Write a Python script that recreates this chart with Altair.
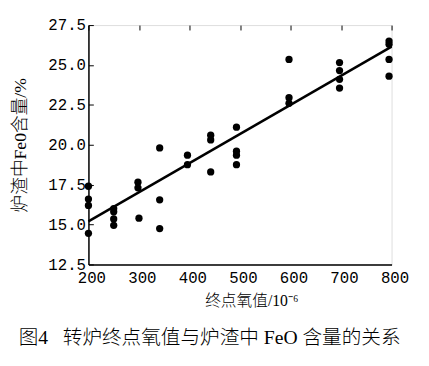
import altair as alt
import pandas as pd

# End-point oxygen (10^-6) and FeO content in slag (%)
oxygen = [200, 200, 200, 200,
          250, 250, 250, 250,
          298, 298, 300,
          341, 341, 341,
          396, 396,
          442, 442, 442,
          493, 493, 493, 493,
          597, 597, 597,
          697, 697, 697, 697,
          795, 795, 795, 795]
feo = [17.4, 16.6, 16.2, 14.45,
       16.0, 15.8, 15.35, 14.95,
       17.65, 17.3, 15.4,
       19.8, 16.55, 14.75,
       19.35, 18.75,
       20.6, 20.3, 18.3,
       21.1, 19.6, 19.35, 18.75,
       25.35, 22.95, 22.6,
       25.15, 24.65, 24.1, 23.55,
       26.5, 26.3, 25.35, 24.3]

# fitted line end points
fit_x = [200, 800]
fit_y = [15.2, 26.15]

x_ticks = [200, 300, 400, 500, 600, 700, 800]
y_ticks = [12.5, 15.0, 17.5, 20.0, 22.5, 25.0, 27.5]

pts = pd.DataFrame({"oxygen": oxygen, "feo": feo})
fit = pd.DataFrame({"oxygen": fit_x, "feo": fit_y})

num_font = "Liberation Mono"
cjk_font = "Liberation Serif, Noto Sans CJK SC"

x_scale = alt.Scale(domain=[200, 800], nice=False, zero=False)
y_scale = alt.Scale(domain=[12.5, 27.5], nice=False, zero=False)

x_axis = alt.Axis(values=x_ticks, format="d", title="终点氧值/10⁻⁶",
                  labelFont=num_font, labelFontSize=16, labelColor="black",
                  labelFlush=False, labelPadding=5, labelOffset=3,
                  ticks=False, tickSize=0,
                  grid=True, gridColor="black", gridWidth=1, gridDash=[5, 2000],
                  domainColor="black", domainWidth=1.5,
                  titleFont=cjk_font, titleFontSize=16, titleFontWeight=300,
                  titleColor="black", titlePadding=8, titleX=166)
y_axis = alt.Axis(values=y_ticks, format=".1f", title="炉渣中Fe0含量/%",
                  labelFont=num_font, labelFontSize=16, labelColor="black",
                  labelFlush=False, labelPadding=3,
                  ticks=False, tickSize=0,
                  grid=True, gridColor="black", gridWidth=1, gridDash=[5, 2000],
                  domainColor="black", domainWidth=1.5,
                  titleFont=cjk_font, titleFontSize=18, titleFontWeight=300,
                  titleColor="black", titlePadding=19)

points = alt.Chart(pts).mark_circle(size=55, color="black", opacity=1).encode(
    x=alt.X("oxygen:Q", scale=x_scale, axis=x_axis),
    y=alt.Y("feo:Q", scale=y_scale, axis=y_axis),
)

line = alt.Chart(fit).mark_line(color="black", strokeWidth=2.5).encode(
    x=alt.X("oxygen:Q", scale=x_scale),
    y=alt.Y("feo:Q", scale=y_scale),
)

chart = alt.layer(points, line).properties(
    width=309,
    height=244,
    autosize=alt.AutoSizeParams(type="none"),
    padding={"left": 82, "top": 14, "right": 30, "bottom": 94},
    title=alt.TitleParams(
        "图4\u2002 转炉终点氧值与炉渣中 FeO 含量的关系",
        orient="bottom", anchor="middle", offset=20, dx=-31,
        font=cjk_font, fontSize=20, fontWeight=300, color="black",
    ),
).configure_view(stroke="black", strokeWidth=1.5).configure(background="white")

chart.save("out.html", embed_options={"renderer": "svg", "actions": False})
